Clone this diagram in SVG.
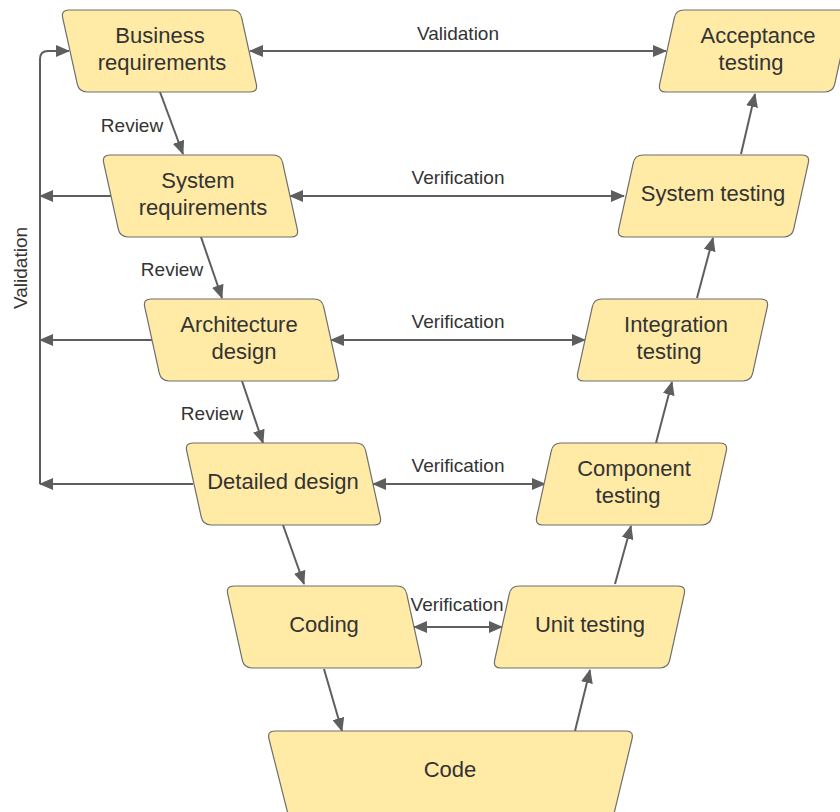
<svg xmlns="http://www.w3.org/2000/svg" xmlns:xlink="http://www.w3.org/1999/xlink" width="840" height="812" viewBox="0 0 840 812">
<style>
.node{fill:#ffeaa6;stroke:#6e6e6e;stroke-width:1.2}
.t{font-family:"Liberation Sans",Arial,sans-serif;font-size:22px;fill:#333;text-anchor:middle}
.l{font-family:"Liberation Sans",Arial,sans-serif;font-size:19px;fill:#333;text-anchor:middle}
.c{fill:none;stroke:#5e5e5e;stroke-width:2}
.e{marker-end:url(#ah)}
.b{marker-start:url(#ah);marker-end:url(#ah)}
</style>
<defs>
<marker id="ah" markerUnits="userSpaceOnUse" markerWidth="14" markerHeight="12" refX="13" refY="6" orient="auto-start-reverse">
<path d="M0,0 L14,6 L0,12 Z" fill="#5e5e5e"/>
</marker>
<path id="L" d="M8,0 H171 Q179,0 180.7,7.8 L195.3,74.2 Q197,82 189,82 H26 Q18,82 16.3,74.2 L1.7,7.8 Q0,0 8,0 Z"/>
<path id="R" d="M26,0 H185 Q193,0 191.3,7.8 L176.7,74.2 Q175,82 167,82 H8 Q0,82 1.7,74.2 L16.3,7.8 Q18,0 26,0 Z"/>
</defs>
<rect width="840" height="812" fill="#fff"/>
<g id="connectors">
<path class="c e" d="M160,92 L183,154"/>
<path class="c e" d="M201,237 L222,298"/>
<path class="c e" d="M242,381 L263,443"/>
<path class="c e" d="M283,525 L304,584"/>
<path class="c e" d="M324,669 L342,731"/>
<path class="c e" d="M575,731 L590,670"/>
<path class="c e" d="M615,584 L631,526"/>
<path class="c e" d="M656,443 L672,382"/>
<path class="c e" d="M697,298 L713,238"/>
<path class="c e" d="M741,154 L755,94"/>
<path class="c b" d="M250,51 H666"/>
<path class="c b" d="M290,196 H624"/>
<path class="c b" d="M331,340 H585"/>
<path class="c b" d="M373,484 H545"/>
<path class="c b" d="M414,627 H502"/>
<path class="c e" d="M40,484 V59 Q40,51 48,51 H69"/>
<path class="c e" d="M111,196 H40"/>
<path class="c e" d="M152,340 H40"/>
<path class="c e" d="M193,484 H40"/>
<text class="l" x="458" y="40">Validation</text>
<text class="l" x="458" y="184">Verification</text>
<text class="l" x="458" y="328">Verification</text>
<text class="l" x="458" y="472">Verification</text>
<text class="l" x="457" y="611">Verification</text>
<text class="l" x="132" y="132">Review</text>
<text class="l" x="172" y="276">Review</text>
<text class="l" x="212" y="420">Review</text>
<text class="l" transform="translate(27,268) rotate(-90)">Validation</text>
</g>
<g id="business">
<use xlink:href="#L" class="node" x="61" y="10"/>
<text class="t" x="160" y="43">Business</text>
<text class="t" x="162" y="70">requirements</text>
</g>
<g id="sysreq">
<use xlink:href="#L" class="node" x="102" y="155"/>
<text class="t" x="198" y="188">System</text>
<text class="t" x="203" y="215">requirements</text>
</g>
<g id="arch">
<use xlink:href="#L" class="node" x="143" y="299"/>
<text class="t" x="239" y="332">Architecture</text>
<text class="t" x="244" y="359">design</text>
</g>
<g id="detailed">
<use xlink:href="#L" class="node" x="185" y="443"/>
<text class="t" x="283" y="489">Detailed design</text>
</g>
<g id="coding">
<use xlink:href="#L" class="node" x="226" y="586"/>
<text class="t" x="324" y="632">Coding</text>
</g>
<g id="acceptance">
<use xlink:href="#R" class="node" x="658" y="10"/>
<text class="t" x="758" y="43">Acceptance</text>
<text class="t" x="751" y="70">testing</text>
</g>
<g id="systest">
<use xlink:href="#R" class="node" x="617" y="155"/>
<text class="t" x="713" y="201">System testing</text>
</g>
<g id="integration">
<use xlink:href="#R" class="node" x="576" y="299"/>
<text class="t" x="676" y="332">Integration</text>
<text class="t" x="669" y="359">testing</text>
</g>
<g id="component">
<use xlink:href="#R" class="node" x="535" y="443"/>
<text class="t" x="634" y="476">Component</text>
<text class="t" x="628" y="503">testing</text>
</g>
<g id="unit">
<use xlink:href="#R" class="node" x="493" y="586"/>
<text class="t" x="590" y="632">Unit testing</text>
</g>
<g id="code">
<path class="node" d="M275,731 H626 Q634,731 632,739 L612,822 H290 L269,739 Q267,731 275,731 Z"/>
<text class="t" x="450" y="777">Code</text>
</g>
</svg>
